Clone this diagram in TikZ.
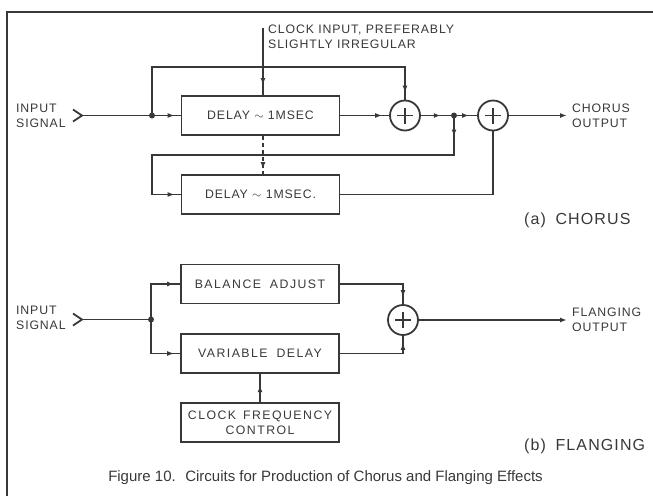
\documentclass[tikz,border=0pt]{standalone}
\usepackage{fontspec}
\setmainfont{Liberation Sans}
\newfontfamily\lblfont{Liberation Sans}[LetterSpace=7]
\newfontfamily\widefont{Liberation Sans}[LetterSpace=12]
\newfontfamily\capfont{Liberation Sans}
\usetikzlibrary{decorations.markings,arrows.meta}
\definecolor{ink}{gray}{0.22}
\begin{document}
\begin{tikzpicture}[x=1pt,y=-1pt,
  >={Latex[length=7pt,width=5pt]},
  wire/.style={line width=1.8pt,draw=ink},
  arr/.style={postaction={decorate,decoration={markings,mark=at position #1 with {\arrow[ink]{>}}}}},
  lbl/.style={font=\lblfont\fontsize{12.3}{15}\selectfont,text=ink,inner sep=0pt},
  blk/.style={draw=ink,line width=1.8pt,minimum width=158pt,minimum height=39pt,inner sep=0pt,
    font=\lblfont\fontsize{12.3}{15}\selectfont,text=ink,align=center},
  wblk/.style={blk,font=\widefont\fontsize{12.3}{15}\selectfont},
  sumnode/.style={circle,draw=ink,line width=1.8pt,minimum size=30pt,inner sep=0pt,
    path picture={\draw[ink,line width=1.6pt]
      ([xshift=-8pt]path picture bounding box.center) -- ([xshift=8pt]path picture bounding box.center)
      ([yshift=-8pt]path picture bounding box.center) -- ([yshift=8pt]path picture bounding box.center);}},
  dot/.style={circle,fill=ink,minimum size=6pt,inner sep=0pt},
  title/.style={font=\lblfont\fontsize{16}{18}\selectfont,text=ink,inner sep=0pt}
]
\useasboundingbox (0,0) rectangle (653,496);
% frame
\coordinate (fb) at (7,496);
\coordinate (fc) at (7,12);
\coordinate (fr) at (653,12);
\draw[wire] (fb) -- (fc) -- (fr);

% ---------- (a) chorus ----------
\node[blk] (d1) at (260.5,115.5) {DELAY $\sim$ 1MSEC};
\node[blk] (d2) at (260.5,194.5) {DELAY $\sim$ 1MSEC.};
\node[sumnode] (s1) at (405,115.5) {};
\node[sumnode] (s2) at (493,115.5) {};
\node[dot] (j1) at (152,115.5) {};
\node[dot] (j2) at (454,115.5) {};
\node[lbl,anchor=west,align=left] (in1) at (16,115.5) {INPUT\\SIGNAL};
\coordinate (c1a) at (73,109.5);
\coordinate (c1) at (82,115.5);
\coordinate (c1b) at (73,121.5);
\draw[wire] (c1a) -- (c1) -- (c1b);
\draw[wire,arr=-6pt] (c1) -- (d1.west);
\coordinate (tl) at (152,67);
\coordinate (tr) at (405,67);
\draw[wire,arr=-7pt] (j1.center) -- (tl) -- (tr) -- (s1.north);
\coordinate (ck) at (263,28);
\node[lbl,anchor=west,align=left] (cklbl) at (268,37) {CLOCK INPUT, PREFERABLY\\SLIGHTLY IRREGULAR};
\draw[wire,arr=0.85] (ck) -- (ck |- d1.north);
\draw[wire,dashed,dash pattern=on 4pt off 3pt,arr=-5pt] (ck |- d1.south) -- (ck |- d2.north);
\draw[wire,arr=-7pt] (d1.east) -- (s1.west);
\draw[wire,arr=0.6] (s1.east) -- (j2.center);
\draw[wire,arr=0.65] (j2.center) -- (s2.west);
\coordinate (f1) at (454,155);
\coordinate (f2) at (152,155);
\draw[wire,arr=21pt,arr=-6pt] (j2.center) -- (f1) -- (f2) -- (f2 |- d2.west) -- (d2.west);
\draw[wire] (d2.east) -- (s2 |- d2.east) -- (s2.south);
\coordinate (co) at (567,115.5);
\draw[wire,->] (s2.east) -- (co);
\node[lbl,anchor=west,align=left] (colbl) at (572,115.5) {CHORUS\\OUTPUT};
\node[title,anchor=west] (ta) at (524,220) {(a)\hspace{4pt} CHORUS};

% ---------- (b) flanging ----------
\node[wblk] (ba) at (260,284) {BALANCE\hspace{4pt} ADJUST};
\node[wblk] (vd) at (260,353.5) {VARIABLE\hspace{4pt} DELAY};
\node[wblk] (cf) at (260,422.5) {CLOCK\hspace{2pt} FREQUENCY\\CONTROL};
\node[sumnode] (s3) at (403,320) {};
\node[dot] (j3) at (151,319.5) {};
\node[lbl,anchor=west,align=left] (in2) at (16,318) {INPUT\\SIGNAL};
\coordinate (c2a) at (73,313.5);
\coordinate (c2) at (82,319.5);
\coordinate (c2b) at (73,325.5);
\draw[wire] (c2a) -- (c2) -- (c2b);
\draw[wire] (c2) -- (j3.center);
\draw[wire,arr=-6pt] (j3.center) |- (ba.west);
\draw[wire,arr=-6pt] (j3.center) |- (vd.west);
\draw[wire,arr=-7pt] (ba.east) -| (s3.north);
\draw[wire,arr=-7pt] (vd.east) -| (s3.south);
\draw[wire,arr=0.6] (cf.north) -- (vd.south);
\coordinate (fo) at (567,320);
\draw[wire,->] (s3.east) -- (fo);
\node[lbl,anchor=west,align=left] (folbl) at (572,320) {FLANGING\\OUTPUT};
\node[title,anchor=west] (tb) at (524,446) {(b)\hspace{4pt} FLANGING};

% caption
\node[text=ink,inner sep=0pt] (cap) at (325.5,478)
  {\scalebox{1.0}[1]{\capfont\fontsize{15}{17}\selectfont Figure 10.\hspace{4pt} Circuits for Production of Chorus and Flanging Effects}};
\end{tikzpicture}
\end{document}
